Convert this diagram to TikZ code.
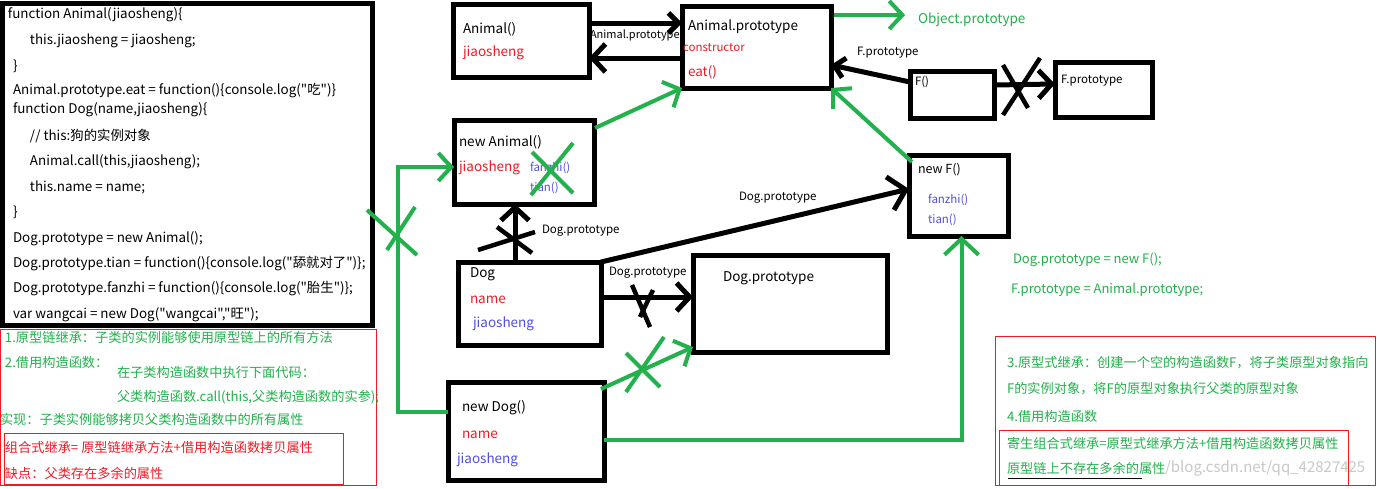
\documentclass[tikz,border=0pt]{standalone}
\usepackage{fontspec}
\setmainfont{Noto Sans CJK SC}
\newfontfamily\codefont{Noto Sans CJK SC}
\usetikzlibrary{arrows.meta}
\definecolor{pgreen}{HTML}{22B14C}
\definecolor{pred}{HTML}{ED1C24}
\definecolor{pblue}{HTML}{5050E0}
\definecolor{wmark}{HTML}{C8C8C8}
\newcommand\fsz[1]{\fontsize{#1}{#1}\selectfont}
\begin{document}
\begin{tikzpicture}[x=1pt,y=-1pt,
  box/.style={draw, line width=5pt, inner sep=0pt, outer sep=0pt, anchor=north west},
  tx/.style={inner sep=0pt, outer sep=0pt, anchor=west},
  code/.style={tx, font=\codefont\fsz{13.4}},
  note/.style={tx, font=\fsz{13.2}, text=pgreen},
  rnote/.style={tx, font=\fsz{13.2}, text=pred},
  big/.style={tx, font=\fsz{13.5}},
  small/.style={tx, font=\fsz{11.5}},
  blk/.style={line width=5pt},
  grn/.style={draw=pgreen, line width=4pt},
  xmark/.style={line width=4.5pt},
  gx/.style={draw=pgreen, line width=4pt},
  frame/.style={draw=pred, line width=1pt},
  bigtip/.style={-{Straight Barb[length=16pt,width=34pt]}},
  midtip/.style={-{Straight Barb[length=13pt,width=28pt]}},
  smalltip/.style={-{Straight Barb[length=10pt,width=20pt]}}
]
\useasboundingbox (0,0) rectangle (1377,488);
\fill[white] (0,0) rectangle (1377,488);

% ---------- code box ----------
\node[box, minimum width=370pt, minimum height=322pt] (code) at (2,3) {};
\node[code] (c1) at (8,15) {function Animal(jiaosheng)\{};
\node[code] (c2) at (30,41) {this.jiaosheng = jiaosheng;};
\node[code] (c3) at (13,66) {\}};
\node[code] (c4) at (13,91) {Animal.prototype.eat = function()\{console.log("吃")\}};
\node[code] (c5) at (13,110) {function Dog(name,jiaosheng)\{};
\node[code] (c6) at (30,136) {// this:狗的实例对象};
\node[code] (c7) at (30,162) {Animal.call(this,jiaosheng);};
\node[code] (c8) at (30,187) {this.name = name;};
\node[code] (c9) at (13,212) {\}};
\node[code] (c10) at (13,239) {Dog.prototype = new Animal();};
\node[code] (c11) at (13,264) {Dog.prototype.tian = function()\{console.log("舔就对了")\};};
\node[code] (c12) at (13,289) {Dog.prototype.fanzhi = function()\{console.log("胎生")\};};
\node[code] (c13) at (13,315) {var wangcai = new Dog("wangcai","旺");};

% ---------- left notes ----------
\draw[frame] (0.5,329) rectangle (376,485);
\draw[frame] (4,433) rectangle (343,484);
\node[note] (n1) at (5,337) {1.原型链继承：子类的实例能够使用原型链上的所有方法};
\node[note] (n2) at (5,363) {2.借用构造函数：};
\node[note] (n3) at (117,372) {在子类构造函数中执行下面代码：};
\node[note] (n4) at (117,397) {父类构造函数.call(this,父类构造函数的实参);};
\node[note] (n5) at (0,419) {实现：子类实例能够拷贝父类构造函数中的所有属性};
\node[rnote] (n6) at (5,447) {组合式继承= 原型链继承方法+借用构造函数拷贝属性};
\node[rnote] (n7) at (5,473) {缺点：父类存在多余的属性};

% ---------- right notes ----------
\draw[frame] (995,336) rectangle (1375,485);
\draw[frame] (999,430) rectangle (1348,485);
\node[note] (r1) at (1007,363) {3.原型式继承：创建一个空的构造函数F，将子类原型对象指向};
\node[note] (r2) at (1007,389) {F的实例对象，将F的原型对象执行父类的原型对象};
\node[note] (r3) at (1007,417) {4.借用构造函数};
\node[note] (r4) at (1007,443) {寄生组合式继承=原型式继承方法+借用构造函数拷贝属性};
\node[tx, font=\fsz{15}, text=wmark] (wm) at (1165,468) {/blog.csdn.net/qq\_42827425};
\node[note] (r5) at (1007,468) {原型链上不存在多余的属性};
\draw[line width=1pt] (1008,478) -- (1142,478);
\node[tx, font=\fsz{13}, text=pgreen] (g1) at (1013,260) {Dog.prototype = new F();};
\node[tx, font=\fsz{13}, text=pgreen] (g2) at (1011,290) {F.prototype = Animal.prototype;};

% ---------- boxes ----------
\node[box, minimum width=136pt, minimum height=72.5pt] (animal) at (453,4.5) {};
\node[big] (animalT) at (463,29) {Animal()};
\node[big, text=pred] (animalJ) at (463,53) {jiaosheng};

\node[box, minimum width=149pt, minimum height=82pt] (ap) at (682,6) {};
\node[big] (apT) at (688,27) {Animal.prototype};
\node[small, text=pred] (apC) at (683,48) {constructor};
\node[big, text=pred] (apE) at (688,72) {eat()};

\node[tx, font=\fsz{13.5}, text=pgreen] (obj) at (918,20) {Object.prototype};

\node[box, minimum width=84pt, minimum height=47pt] (F) at (910,71) {};
\node[small] (FT) at (915,82) {F()};
\node[box, minimum width=97pt, minimum height=55pt] (Fp) at (1055,62) {};
\node[small] (FpT) at (1061,81) {F.prototype};

\node[box, minimum width=140pt, minimum height=84pt] (na) at (454,120) {};
\node[big] (naT) at (459,142) {new Animal()};
\node[big, text=pred] (naJ) at (459,168) {jiaosheng};
\node[small, text=pblue] (naF) at (530,168) {fanzhi()};
\node[small, text=pblue] (naTi) at (530,188) {tian()};

\node[box, minimum width=99pt, minimum height=81pt] (nf) at (909,155) {};
\node[small, font=\fsz{12.5}] (nfT) at (918,170) {new F()};
\node[small, text=pblue] (nfF) at (928,200) {fanzhi()};
\node[small, text=pblue] (nfTi) at (928,220) {tian()};

\node[box, minimum width=143pt, minimum height=83pt] (dog) at (458,262) {};
\node[big] (dogT) at (470,274) {Dog};
\node[big, text=pred] (dogN) at (470,300) {name};
\node[big, text=pblue] (dogJ) at (473,324) {jiaosheng};

\node[box, minimum width=194pt, minimum height=97pt] (dp) at (693,255) {};
\node[big] (dpT) at (723,278) {Dog.prototype};

\node[box, minimum width=156pt, minimum height=98pt] (nd) at (448,382) {};
\node[big] (ndT) at (462,408) {new Dog()};
\node[big, text=pred] (ndN) at (462,435) {name};
\node[big, text=pblue] (ndJ) at (457,460) {jiaosheng};

% ---------- black connectors ----------
\draw[blk, smalltip] ([yshift=-18.5pt]animal.north east) -- ([yshift=-17pt]ap.north west);
\node[small, font=\fsz{11}] (l1) at (590,35) {Animal.prototype};
\draw[blk, midtip] ([yshift=-52pt]ap.north west) -- ([yshift=-53.5pt]animal.north east);

\draw[blk, smalltip] ([yshift=-11pt]F.north west) -- ([yshift=-59pt]ap.north east);
\node[small] (l2) at (857,53) {F.prototype};

\draw[blk, midtip] ([yshift=-14pt]F.north east) -- ([yshift=-22pt]Fp.north west);
\draw[xmark] (1003,65) -- (1028,108);
\draw[xmark] (1040,58) -- (1003,115);

\draw[blk, midtip] ([xshift=57pt]dog.north west) -- ([xshift=61pt]na.south west);
\draw[xmark] (478,250) -- (535,232);
\draw[xmark] (497,227) -- (532,253);
\node[small] (l3) at (542,231) {Dog.prototype};

\draw[blk, midtip] ([yshift=-35pt]dog.north east) -- ([yshift=-42pt]dp.north west);
\draw[xmark] (632,285) -- (650,327);
\draw[xmark] (653,290) -- (640,317);
\node[small] (l4) at (609,273) {Dog.prototype};

\draw[blk, bigtip] (dog.north east) -- ([yshift=-34pt]nf.north west);
\node[small] (l5) at (739,198) {Dog.prototype};

% ---------- green connectors ----------
\draw[grn, midtip] ([yshift=-9pt,xshift=3pt]ap.north east) -- ([xshift=-13pt,yshift=5pt]obj.west);
\draw[grn, midtip] ([xshift=1pt,yshift=-8pt]na.north east) -- (ap.south west);
\draw[grn, midtip] ([xshift=3pt,yshift=-7pt]nf.north west) -- (ap.south east);
\draw[gx] (532,152) -- (573,193);
\draw[gx] (573,143) -- (531,195);

\draw[grn, midtip] ([yshift=-30pt]nd.north west) -- ++(-50,0) |- ([yshift=-47pt]na.north west);
\draw[gx] (367,210) -- (417,255);
\draw[gx] (415,207) -- (387,250);

\draw[grn, midtip] ([xshift=-3pt,yshift=-7pt]nd.north east) -- ([yshift=5pt]dp.south west);
\draw[gx] (626,353) -- (660,387);
\draw[gx] (664,337) -- (626,392);

\draw[grn, bigtip] ([yshift=-58pt]nd.north east) -| ([xshift=3pt]nf.south);
\end{tikzpicture}
\end{document}
